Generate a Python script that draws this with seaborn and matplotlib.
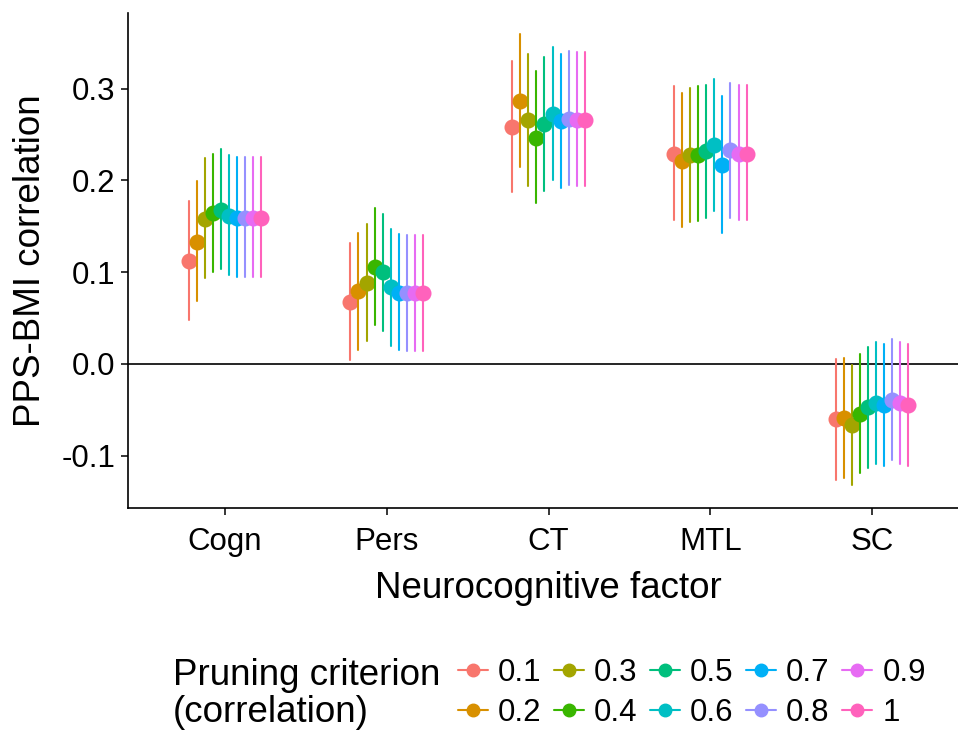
import numpy as np
import pandas as pd
import matplotlib
matplotlib.use("Agg")
import matplotlib.pyplot as plt
from matplotlib.lines import Line2D
import seaborn as sns

# Neurocognitive factors and pruning criteria
factors = ["Cogn", "Pers", "CT", "MTL", "SC"]
criteria = ["0.1", "0.2", "0.3", "0.4", "0.5", "0.6", "0.7", "0.8", "0.9", "1"]

# PPS-BMI correlation estimates with 95% CI, one list per factor (ordered by criterion)
est_cogn = [0.112, 0.133, 0.158, 0.165, 0.168, 0.161, 0.159, 0.159, 0.159, 0.159]
lo_cogn = [0.048, 0.069, 0.094, 0.100, 0.103, 0.097, 0.095, 0.095, 0.095, 0.095]
hi_cogn = [0.178, 0.199, 0.224, 0.229, 0.234, 0.228, 0.226, 0.226, 0.226, 0.226]

est_pers = [0.068, 0.079, 0.088, 0.106, 0.100, 0.084, 0.077, 0.077, 0.077, 0.077]
lo_pers = [0.004, 0.015, 0.025, 0.042, 0.036, 0.020, 0.015, 0.014, 0.014, 0.014]
hi_pers = [0.132, 0.143, 0.153, 0.170, 0.163, 0.147, 0.142, 0.141, 0.141, 0.141]

est_ct = [0.258, 0.286, 0.266, 0.246, 0.261, 0.272, 0.265, 0.267, 0.266, 0.266]
lo_ct = [0.187, 0.215, 0.194, 0.175, 0.188, 0.200, 0.192, 0.195, 0.194, 0.194]
hi_ct = [0.330, 0.359, 0.338, 0.319, 0.334, 0.345, 0.338, 0.341, 0.340, 0.340]

est_mtl = [0.229, 0.221, 0.228, 0.228, 0.232, 0.239, 0.217, 0.233, 0.229, 0.229]
lo_mtl = [0.157, 0.149, 0.155, 0.156, 0.159, 0.167, 0.143, 0.159, 0.157, 0.157]
hi_mtl = [0.303, 0.295, 0.301, 0.303, 0.304, 0.311, 0.292, 0.306, 0.304, 0.304]

est_sc = [-0.060, -0.059, -0.067, -0.054, -0.047, -0.042, -0.045, -0.039, -0.043, -0.045]
lo_sc = [-0.126, -0.124, -0.132, -0.119, -0.113, -0.109, -0.111, -0.105, -0.109, -0.111]
hi_sc = [0.005, 0.007, -0.001, 0.011, 0.018, 0.024, 0.022, 0.027, 0.024, 0.022]

y_ticks = [-0.1, 0.0, 0.1, 0.2, 0.3]
y_tick_labels = ["-0.1", "0.0", "0.1", "0.2", "0.3"]

palette = ["#F8766D", "#D89000", "#A3A500", "#39B600", "#00BF7D",
           "#00BFC4", "#00B0F6", "#9590FF", "#E76BF3", "#FF62BC"]

estimates = {"Cogn": (est_cogn, lo_cogn, hi_cogn),
             "Pers": (est_pers, lo_pers, hi_pers),
             "CT": (est_ct, lo_ct, hi_ct),
             "MTL": (est_mtl, lo_mtl, hi_mtl),
             "SC": (est_sc, lo_sc, hi_sc)}

# Long table: lower bound, estimate and upper bound per cell, so that the
# median is the estimate and the full-range interval is the CI
rows = []
for f in factors:
    est, lo, hi = estimates[f]
    for i, c in enumerate(criteria):
        for v in (lo[i], est[i], hi[i]):
            rows.append({"factor": f, "criterion": c, "r": v})
df = pd.DataFrame(rows)

sns.set_theme(style="white")
plt.rcParams["font.family"] = ["Liberation Sans", "DejaVu Sans"]
plt.rcParams["axes.unicode_minus"] = False
plt.rcParams["text.color"] = "black"

fig = plt.figure(figsize=(9.58, 7.31), dpi=100)
W, H = 958, 731
ax_left, ax_right, ax_top, ax_bottom = 128, 969, 13, 508
ax = fig.add_axes([ax_left / W, 1 - ax_bottom / H,
                   (ax_right - ax_left) / W, (ax_bottom - ax_top) / H])

sns.pointplot(data=df, x="factor", y="r", hue="criterion",
              order=factors, hue_order=criteria, palette=palette,
              estimator="median", errorbar=("pi", 100),
              dodge=0.45, linestyle="none", markers="o",
              markersize=9.5, err_kws={"linewidth": 1.5},
              capsize=0, legend=False, ax=ax)

ax.axhline(0, color="black", linewidth=1.2, zorder=0)

ax.set_xlim(-0.6, 4.6)
ax.set_ylim(-0.1569, 0.3824)
ax.set_yticks(y_ticks)
ax.set_yticklabels(y_tick_labels)

for s in ["top", "right"]:
    ax.spines[s].set_visible(False)
for s in ["left", "bottom"]:
    ax.spines[s].set_color("black")
    ax.spines[s].set_linewidth(1.2)
ax.tick_params(axis="both", which="major", direction="out", length=5,
               width=1.1, color="black", labelsize=22.5, labelcolor="black",
               left=True, bottom=True, pad=4)
ax.tick_params(axis="x", pad=9)

ax.set_xlabel("Neurocognitive factor", fontsize=26.5, color="black", labelpad=10)
ax.set_ylabel("PPS-BMI correlation", fontsize=26.5, color="black", labelpad=10)

# Legend: title on the left, keys in 5 columns x 2 rows
fig.text(173 / W, 1 - 694 / H, "Pruning criterion\n(correlation)",
         fontsize=26.5, ha="left", va="center", linespacing=1.1, color="black")
handles = [Line2D([0], [0], color=col, marker="o", markersize=9,
                  linewidth=1.5) for col in palette]
fig.legend(handles, criteria, ncol=5, loc="center left",
           bbox_to_anchor=(458 / W, 1 - 693 / H), frameon=False,
           fontsize=22.5, labelcolor="black",
           handlelength=0.96, handletextpad=0.32,
           columnspacing=0.4, labelspacing=0.33, borderaxespad=0,
           borderpad=0)

fig.savefig("out.png", dpi=100, facecolor="white")
